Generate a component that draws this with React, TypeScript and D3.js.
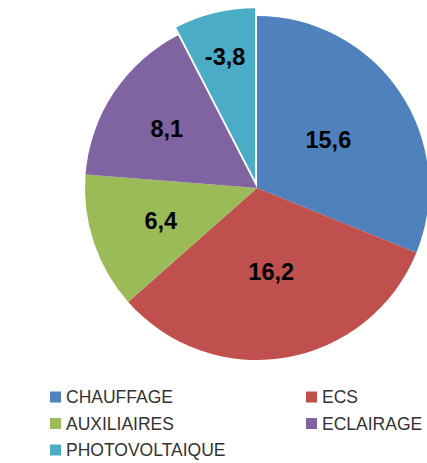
import React, { useEffect, useRef } from "react";
import * as d3 from "d3";

const categories = ["CHAUFFAGE", "ECS", "AUXILIAIRES", "ECLAIRAGE", "PHOTOVOLTAIQUE"];
const values = [15.6, 16.2, 6.4, 8.1, -3.8];
const colors = ["#4F81BD", "#C0504D", "#9BBB59", "#8064A2", "#4BACC6"];
// label distance from centre, as a share of the radius (Excel "best fit")
const labelPos = [0.5, 0.49, 0.59, 0.63, 0.74];
const exploded = [0, 0, 0, 0, 8];

const App = () => {
  const svgRef = useRef<SVGSVGElement>(null);

  useEffect(() => {
    const svg = d3.select(svgRef.current);
    svg.selectAll("*").remove();

    const cx = 257;
    const cy = 188;
    const radius = 172;

    const pie = d3.pie<number>().sort(null).value((d) => Math.abs(d));
    const arcs = pie(values);
    const arc = d3.arc<d3.PieArcDatum<number>>().innerRadius(0).outerRadius(radius);

    const g = svg.append("g").attr("transform", `translate(${cx},${cy})`);

    const slices = g.selectAll("g.slice")
      .data(arcs)
      .join("g")
      .attr("class", "slice")
      .attr("transform", (d, i) => {
        const mid = (d.startAngle + d.endAngle) / 2;
        const off = exploded[i];
        return `translate(${Math.sin(mid) * off},${-Math.cos(mid) * off})`;
      });

    slices.append("path")
      .attr("d", arc)
      .attr("fill", (d, i) => colors[i]);

    slices.append("text")
      .attr("transform", (d, i) => {
        const mid = (d.startAngle + d.endAngle) / 2;
        const r = radius * labelPos[i];
        return `translate(${Math.sin(mid) * r},${-Math.cos(mid) * r})`;
      })
      .attr("text-anchor", "middle")
      .attr("dy", "0.36em")
      .style("font-family", "'Liberation Sans', Arial, sans-serif")
      .style("font-weight", "bold")
      .style("font-size", "23.5px")
      .style("fill", "#000")
      .text((d) => d.data.toFixed(1).replace(".", ","));

    // Legend
    const legend = svg.append("g");
    const colX = [50, 306];
    const rowY = [397, 423.5, 450];
    const items = legend.selectAll("g.item")
      .data(categories)
      .join("g")
      .attr("class", "item")
      .attr("transform", (d, i) => `translate(${colX[i % 2]},${rowY[Math.floor(i / 2)]})`);

    items.append("rect")
      .attr("x", 0)
      .attr("y", -5.5)
      .attr("width", 11)
      .attr("height", 11)
      .attr("fill", (d, i) => colors[i]);

    items.append("text")
      .attr("x", 16)
      .attr("dy", "0.36em")
      .style("font-family", "'Liberation Sans', Arial, sans-serif")
      .style("font-size", "17.5px")
      .style("fill", "#333")
      .text((d) => d);
  }, []);

  return (
    <svg
      ref={svgRef}
      width={427}
      height={463}
      style={{ position: "absolute", left: 0, top: 0, background: "#fff" }}
    />
  );
};

export default App;
